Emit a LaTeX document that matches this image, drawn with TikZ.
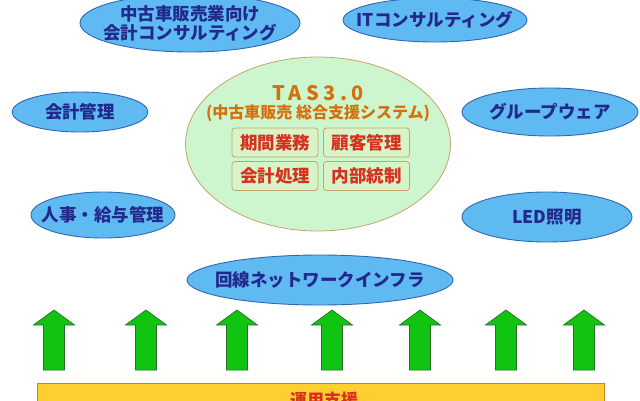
\documentclass[tikz,border=0pt]{standalone}
\usepackage{fontspec}
\setmainfont{Noto Sans CJK JP}
\usetikzlibrary{shapes.geometric, positioning}

\definecolor{skyfill}{RGB}{96,186,242}
\definecolor{skyline}{RGB}{46,104,178}
\definecolor{navytext}{RGB}{34,40,140}
\definecolor{mintfill}{RGB}{206,246,206}
\definecolor{tanline}{RGB}{196,164,108}
\definecolor{tasorange}{RGB}{214,112,14}
\definecolor{boxred}{RGB}{214,48,30}
\definecolor{boxfill}{RGB}{214,244,200}
\definecolor{arrowgreen}{RGB}{18,196,18}
\definecolor{arrowline}{RGB}{40,110,40}
\definecolor{barfill}{RGB}{255,206,48}
\definecolor{barline}{RGB}{206,128,40}

\begin{document}
\begin{tikzpicture}[x=1pt, y=-1pt,
    bubble/.style={ellipse, draw=skyline, line width=0.9pt, fill=skyfill,
      inner xsep=-30pt, inner ysep=-10pt, text=navytext,
      font=\fontsize{17.5}{19}\selectfont\bfseries, align=center},
    core/.style={ellipse, draw=tanline, line width=0.8pt, fill=mintfill, inner sep=0pt},
    tasbox/.style={rectangle, rounded corners=3pt, draw=tanline, line width=0.8pt,
      fill=boxfill, minimum width=86pt, minimum height=29pt, inner sep=0pt,
      text=boxred, font=\fontsize{17.5}{19}\selectfont\bfseries},
    uparrow/.style={fill=arrowgreen, draw=arrowline, line width=0.7pt}]

  \useasboundingbox (0,0) rectangle (640,400);

  % support bar at the bottom
  \node[rectangle, draw=barline, line width=0.9pt, fill=barfill, minimum width=567pt,
    minimum height=40pt, anchor=north west, inner sep=0pt] (unyo) at (37,383) {};
  \node[text=boxred, font=\fontsize{17}{19}\selectfont\bfseries] (unyotxt) at (324,400) {運用支援};

  % outer services
  \node[bubble, minimum width=220pt, minimum height=58pt] (chuko) at (190,23)
    {中古車販売業向け\\会計コンサルティング};
  \node[bubble, minimum width=184pt, minimum height=44pt] (it) at (435,20) {ITコンサルティング};
  \node[bubble, minimum width=136pt, minimum height=40pt] (kaikei) at (80,112) {会計管理};
  \node[bubble, minimum width=176pt, minimum height=48pt] (group) at (550,112) {グループウェア};
  \node[bubble, minimum width=144pt, minimum height=46pt] (jinji) at (103,215) {人事・給与管理};
  \node[bubble, minimum width=170pt, minimum height=50pt] (led) at (547,217) {LED照明};
  \node[bubble, minimum width=266pt, minimum height=50pt] (kaisen) at (320,280) {回線ネットワークインフラ};

  % TAS core
  \node[core, minimum width=265pt, minimum height=174pt] (tas) at (318,144) {};
  \node[text=tasorange, font=\fontsize{20}{22}\selectfont\bfseries\addfontfeatures{LetterSpace=22}] (tasname) at (318,93) {TAS3.0};
  \node[text=tasorange, font=\fontsize{16}{18}\selectfont\bfseries] (tassub) at (318,113)
    {(中古車販売 総合支援システム)};
  \node[tasbox] (kikan) at (275,142.5) {期間業務};
  \node[tasbox] (kokyaku) at (366.5,142.5) {顧客管理};
  \node[tasbox] (shori) at (275,176) {会計処理};
  \node[tasbox] (naibu) at (366.5,176) {内部統制};

  % arrows from the bar
  \foreach \x in {54,146,237,332,420,506,584}
    \draw[uparrow] (\x-10.5,370) -- (\x-10.5,325) -- (\x-20.5,325) -- (\x,310)
      -- (\x+20.5,325) -- (\x+10.5,325) -- (\x+10.5,370) -- cycle;
\end{tikzpicture}
\end{document}
